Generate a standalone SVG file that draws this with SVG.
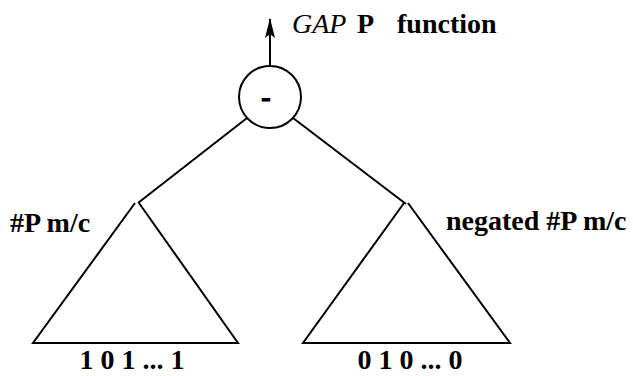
<svg xmlns="http://www.w3.org/2000/svg" width="633" height="376" viewBox="0 0 633 376">
<style>
.ln{stroke:#000;stroke-width:2;fill:none}
.t{font-family:"Liberation Serif","Times New Roman",Times,"DejaVu Serif",serif;font-size:28px;font-weight:bold;fill:#000}
</style>
<defs>
<marker id="ah" viewBox="0 0 20 10" refX="19" refY="5" markerWidth="20" markerHeight="10" markerUnits="userSpaceOnUse" orient="auto">
<path d="M0,0 L20,5 L0,10 L4,5 z" fill="#000"/>
</marker>
</defs>
<rect width="633" height="376" fill="#fff"/>
<g id="connectors">
<line class="ln" x1="270" y1="66" x2="270" y2="19" marker-end="url(#ah)"/>
<line class="ln" x1="247" y1="118" x2="138" y2="203"/>
<line class="ln" x1="293" y1="118" x2="406" y2="204"/>
</g>
<g id="output-label">
<text class="t" x="292" y="33"><tspan font-style="italic" font-weight="normal">GAP</tspan><tspan x="357">P</tspan><tspan x="397">function</tspan></text>
</g>
<g id="minus-node">
<circle class="ln" cx="270" cy="97" r="31"/>
<text class="t" x="266" y="106" text-anchor="middle" font-size="40" stroke="#000" stroke-width="1.2">-</text>
</g>
<g id="left-tree">
<path class="ln" d="M135,203 L33,343 L238,343 L139,203"/>
<text class="t" x="10" y="232">#P m/c</text>
<text class="t" x="132" y="369" text-anchor="middle">1 0 1 ... 1</text>
</g>
<g id="right-tree">
<path class="ln" d="M404,203 L303,343 L510,343 L408,203"/>
<text class="t" x="446" y="230">negated #P m/c</text>
<text class="t" x="410" y="369" text-anchor="middle">0 1 0 ... 0</text>
</g>
</svg>
